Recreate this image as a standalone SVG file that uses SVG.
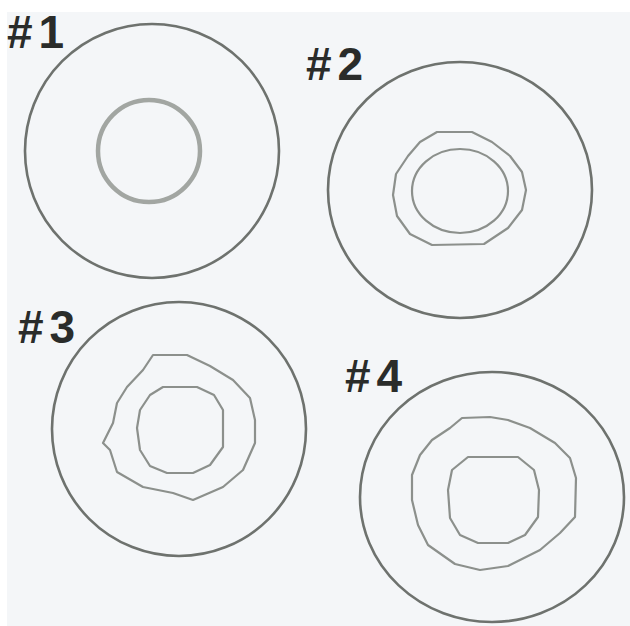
<svg xmlns="http://www.w3.org/2000/svg" width="630" height="626" viewBox="0 0 630 626">
<style>
.bg{fill:#f4f6f8}
.outer{fill:none;stroke:#6e726e;stroke-width:2.6}
.inner{fill:none;stroke:#8c908c;stroke-width:2.2;stroke-linejoin:round}
.thick{fill:none;stroke:#a2a6a2;stroke-width:4.5}
.lbl{font-family:"Liberation Sans",Arial,sans-serif;font-weight:bold;font-size:46px;fill:#2a2c2a;letter-spacing:6px}
</style>
<rect width="630" height="626" fill="#ffffff"/>
<rect class="bg" x="7" y="12" width="623" height="614"/>
<g id="disc1">
<circle class="outer" cx="152" cy="151" r="127"/>
<circle class="thick" cx="149" cy="151" r="51"/>
<text class="lbl" x="7" y="48">#1</text>
</g>
<g id="disc2">
<ellipse class="outer" cx="460" cy="190" rx="132" ry="128"/>
<path class="inner" d="M437,132 L472,132 L492,142 L510,156 L522,172 L526,190 L522,210 L508,228 L484,244 L432,245 L410,234 L397,216 L393,195 L396,174 L408,156 L420,142 Z"/>
<ellipse class="inner" cx="460" cy="191" rx="48" ry="42"/>
<text class="lbl" x="306" y="80">#2</text>
</g>
<g id="disc3">
<circle class="outer" cx="179" cy="429" r="127"/>
<path class="inner" d="M153,355 L187,355 L210,366 L233,380 L250,398 L255,420 L255,443 L243,470 L223,487 L193,500 L173,493 L143,487 L117,472 L110,450 L103,443 L113,423 L117,403 L127,387 L143,370 Z"/>
<path class="inner" d="M163,387 L197,387 L214,395 L223,410 L223,447 L210,465 L193,473 L167,473 L150,466 L140,450 L137,428 L140,410 L150,395 Z"/>
<text class="lbl" x="18" y="343">#3</text>
</g>
<g id="disc4">
<ellipse class="outer" cx="492" cy="497" rx="132" ry="125"/>
<path class="inner" d="M462,418 L490,417 L508,420 L530,428 L555,443 L570,458 L576,478 L575,517 L560,533 L540,550 L508,566 L480,570 L455,564 L428,545 L418,525 L412,500 L412,475 L420,455 L432,440 L450,428 Z"/>
<path class="inner" d="M468,457 L518,457 L534,470 L539,490 L538,517 L525,535 L508,543 L478,543 L460,535 L450,518 L448,490 L452,470 Z"/>
<text class="lbl" x="345" y="392">#4</text>
</g>
</svg>
